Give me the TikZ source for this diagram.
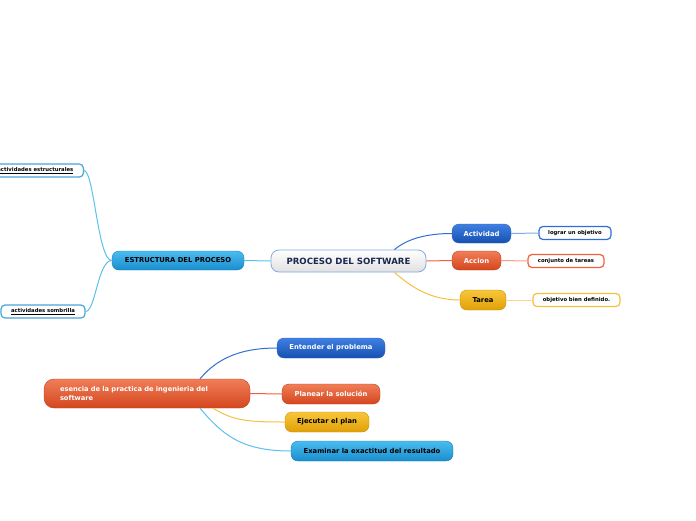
\documentclass[tikz,border=0pt]{standalone}
\usepackage{fontspec}
\setmainfont{DejaVu Sans}
\usetikzlibrary{calc}
\definecolor{cBlueT}{HTML}{3F80E2}
\definecolor{cBlueB}{HTML}{1550B0}
\definecolor{cBlueL}{HTML}{2F6FD0}
\definecolor{cOrT}{HTML}{F07E58}
\definecolor{cOrB}{HTML}{D4461E}
\definecolor{cOrL}{HTML}{F0603A}
\definecolor{cYeT}{HTML}{F8C63A}
\definecolor{cYeB}{HTML}{E0A008}
\definecolor{cYeL}{HTML}{F5C040}
\definecolor{cSkT}{HTML}{4BBCF0}
\definecolor{cSkB}{HTML}{1A8ECD}
\definecolor{cSkL}{HTML}{5CC0EE}
\definecolor{cNavy}{HTML}{1A2850}
\tikzset{
  pill/.style={rounded corners=7pt, inner sep=0pt, minimum height=19pt, font=\fontsize{6.8}{8}\bfseries\selectfont},
  bluebox/.style={pill, top color=cBlueT, bottom color=cBlueB, draw=cBlueT!80!black, line width=0.4pt, text=white},
  orbox/.style={pill, top color=cOrT, bottom color=cOrB, draw=cOrB!90!black, line width=0.4pt, text=white},
  yebox/.style={pill, top color=cYeT, bottom color=cYeB, draw=cYeB!90!black, line width=0.4pt, text=black},
  skybox/.style={pill, top color=cSkT, bottom color=cSkB, draw=cSkB!90!black, line width=0.4pt, text=black},
  leaf/.style={rounded corners=4pt, fill=white, line width=1.2pt, inner sep=0pt, minimum height=13pt, font=\fontsize{5.3}{6}\bfseries\selectfont, text=black},
  conn/.style={line width=1pt},
}
\begin{document}
\begin{tikzpicture}[x=1pt,y=-1pt]
\useasboundingbox (0,0) rectangle (696,520);
% central node
\node[rounded corners=8pt, top color=white, bottom color=black!12, draw=cBlueL!60, line width=0.8pt,
      minimum width=155pt, minimum height=22pt, inner sep=0pt, text=cNavy,
      font=\fontsize{8.6}{10}\bfseries\selectfont] (proc) at (348.5,261) {PROCESO DEL SOFTWARE};
\node[skybox, minimum width=132pt] (est) at (178,260.5) {ESTRUCTURA DEL PROCESO};
\node[leaf, draw=cSkB!80, anchor=east, minimum width=96pt] (ae) at (84,170.5) {\underline{actividades estructurales}};
\node[leaf, draw=cSkB!80, minimum width=84pt] (as) at (43,311.5) {\underline{actividades sombrilla}};

\node[bluebox, minimum width=59pt] (act) at (481.5,233.5) {Actividad};
\node[orbox, minimum width=49pt] (acc) at (476.5,260.5) {Accion};
\node[yebox, minimum width=46pt, minimum height=20pt] (tar) at (483,300) {Tarea};

\node[leaf, draw=cBlueL, minimum width=72pt] (log) at (575,233) {lograr un objetivo};
\node[leaf, draw=cOrL, minimum width=76pt] (con) at (566,261) {conjunto de tareas};
\node[leaf, draw=cYeL, minimum width=87pt] (obj) at (576.5,300) {objetivo bien definido.};

\node[orbox, minimum width=206pt, minimum height=29pt, rounded corners=10pt, text width=174pt, align=left,
      inner xsep=16pt, font=\fontsize{6.7}{8.5}\bfseries\selectfont] (ess) at (147,393.5)
      {esencia de la practica de ingenieria del\\software};
\node[bluebox, minimum width=108pt, minimum height=20pt] (ent) at (331,348) {Entender el problema};
\node[orbox, minimum width=98pt, minimum height=20pt] (pla) at (331,394) {Planear la solución};
\node[yebox, minimum width=84pt, minimum height=20pt] (eje) at (327,422) {Ejecutar el plan};
\node[skybox, minimum width=162pt, minimum height=20pt] (exa) at (372,451) {Examinar la exactitud del resultado};

% connectors
\draw[conn, cSkL] (proc.west) -- (est.east);
\draw[conn, cSkL] (est.west) .. controls +(-14,0) and +(10,0) .. (ae.east);
\draw[conn, cSkL] (est.west) .. controls +(-14,0) and +(10,0) .. (as.east);
\draw[conn, cBlueL] ([xshift=46pt]proc.north) .. controls +(14,-12) and +(-22,0) .. (act.west);
\draw[conn, cOrL] (proc.east) -- (acc.west);
\draw[conn, cYeL] ([xshift=46pt]proc.south) .. controls +(16,14) and +(-30,0) .. (tar.west);
\draw[conn, cBlueL!60] (act.east) -- (log.west);
\draw[conn, cOrL!60] (acc.east) -- (con.west);
\draw[conn, cYeL!60] (tar.east) -- (obj.west);
\draw[conn, cBlueL] ([xshift=53pt]ess.north) .. controls +(20,-24) and +(-30,0) .. (ent.west);
\draw[conn, cOrL] (ess.east) -- (pla.west);
\draw[conn, cYeL] ([xshift=66pt]ess.south) .. controls +(20,12) and +(-40,0) .. (eje.west);
\draw[conn, cSkL] ([xshift=53pt]ess.south) .. controls +(22,26) and +(-50,0) .. (exa.west);
\end{tikzpicture}
\end{document}
